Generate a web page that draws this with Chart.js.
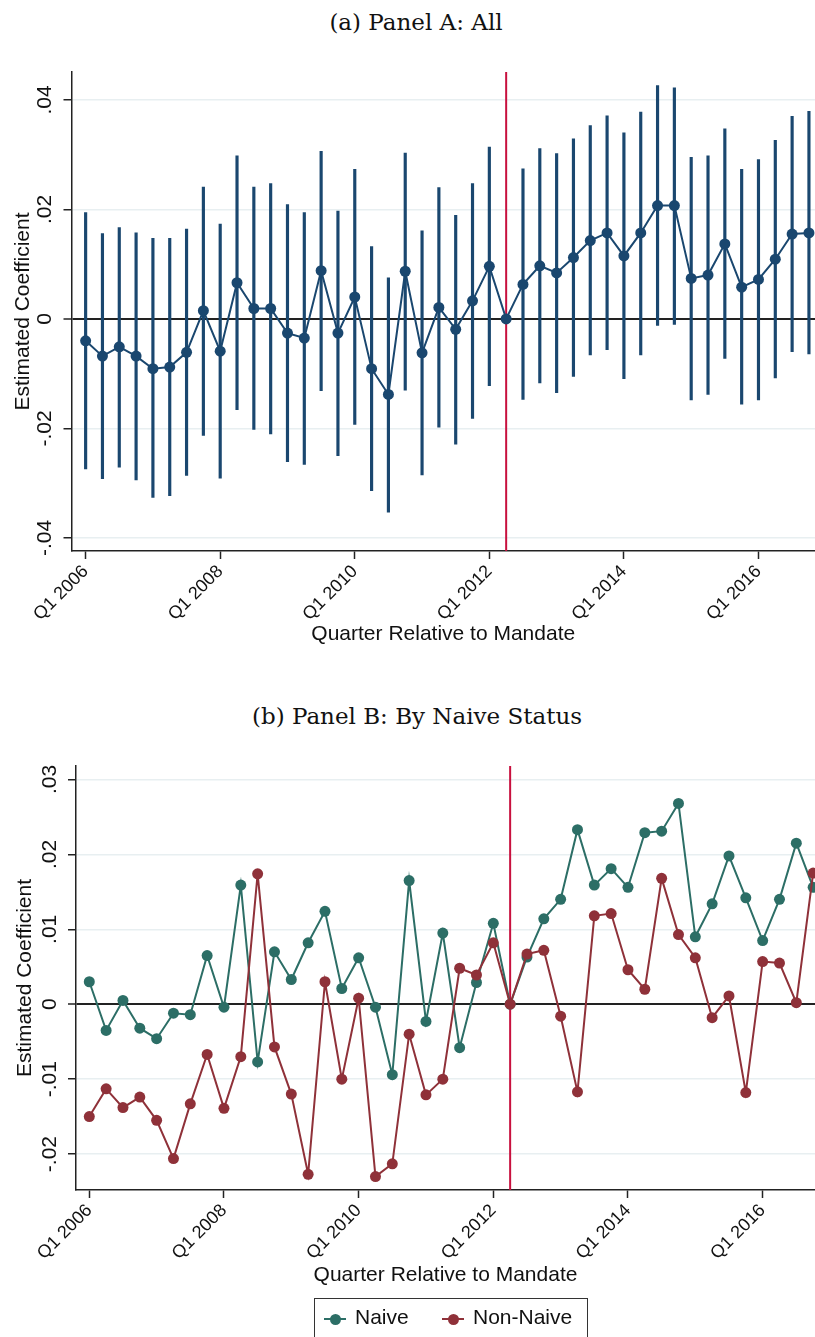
<!DOCTYPE html>
<html>
<head>
<meta charset="utf-8">
<script src="https://cdn.jsdelivr.net/npm/chart.js@4.4.0/dist/chart.umd.min.js"></script>
<style>
  body { margin: 0; background: #fff; width: 815px; height: 1337px; overflow: hidden; position: relative;
         font-family: "Liberation Sans", Arial, sans-serif; }
  .title { position: absolute; font-family: "DejaVu Serif", serif; font-size: 23px; color: #111;
           white-space: nowrap; transform: translateX(-50%); }
  .box { position: absolute; left: 0; width: 815px; }
  #legend { position: absolute; left: 314px; top: 1298px; width: 272px; height: 60px; border: 1px solid #333; }
  #legend .ln { position: absolute; height: 2px; width: 22px; top: 19px; }
  #legend .dot { position: absolute; width: 11px; height: 11px; border-radius: 50%; top: 14.5px; }
  #legend .txt { position: absolute; top: 6px; font-size: 21px; color: #111; }
</style>
</head>
<body>
<div class="title" style="left:416px; top:9px;">(a) Panel A: All</div>
<div class="box" style="top:0; height:660px;"><canvas id="chartA"></canvas></div>
<div class="title" style="left:417px; top:703px;">(b) Panel B: By Naive Status</div>
<div class="box" style="top:680px; height:620px;"><canvas id="chartB"></canvas></div>
<div id="legend">
  <span class="ln" style="left:9px; background:#2c6e66;"></span>
  <span class="dot" style="left:14.5px; background:#2c6e66;"></span>
  <span class="txt" style="left:40px;">Naive</span>
  <span class="ln" style="left:127px; background:#8f3139;"></span>
  <span class="dot" style="left:132.5px; background:#8f3139;"></span>
  <span class="txt" style="left:158px;">Non-Naive</span>
</div>
<script>
"use strict";

// Quarters are numbered 0 (Q1 2006) .. 43 (Q4 2016); mandate quarter = 25 (Q2 2012)
const tickQuarters = [0, 8, 16, 24, 32, 40];
const tickLabels = ['Q1 2006', 'Q1 2008', 'Q1 2010', 'Q1 2012', 'Q1 2014', 'Q1 2016'];
const mandateQuarter = 25;

// Panel A: all
const estA = [-0.0040, -0.0068, -0.0051, -0.0068, -0.0091, -0.0088, -0.0061, 0.0015, -0.0059, 0.0066,
  0.0019, 0.0019, -0.0026, -0.0035, 0.0088, -0.0026, 0.0040, -0.0091, -0.0138, 0.0087,
  -0.0062, 0.0021, -0.0019, 0.0033, 0.0096, 0, 0.0063, 0.0097, 0.0084, 0.0112,
  0.0143, 0.0157, 0.0115, 0.0157, 0.0207, 0.0207, 0.0074, 0.0080, 0.0137, 0.0058,
  0.0072, 0.0109, 0.0155, 0.0157];
const ciHighA = [0.0194, 0.0156, 0.0167, 0.0157, 0.0147, 0.0147, 0.0164, 0.0241, 0.0173, 0.0298,
  0.0241, 0.0247, 0.0209, 0.0194, 0.0306, 0.0197, 0.0273, 0.0132, 0.0075, 0.0303,
  0.0161, 0.0240, 0.0189, 0.0247, 0.0314, null, 0.0274, 0.0311, 0.0302, 0.0329,
  0.0353, 0.0371, 0.0340, 0.0378, 0.0426, 0.0422, 0.0295, 0.0298, 0.0347, 0.0273,
  0.0291, 0.0326, 0.0370, 0.0379];
const ciLowA = [-0.0274, -0.0292, -0.0271, -0.0294, -0.0326, -0.0323, -0.0286, -0.0213, -0.0291, -0.0166,
  -0.0202, -0.0210, -0.0261, -0.0266, -0.0131, -0.0250, -0.0193, -0.0314, -0.0353, -0.0130,
  -0.0285, -0.0198, -0.0229, -0.0182, -0.0122, null, -0.0147, -0.0117, -0.0135, -0.0105,
  -0.0066, -0.0056, -0.0109, -0.0066, -0.0012, -0.0010, -0.0148, -0.0138, -0.0072, -0.0156,
  -0.0148, -0.0108, -0.0060, -0.0064];
const yTicksA = [-0.04, -0.02, 0, 0.02, 0.04];

// Panel B: by naive status
const naiveB = [0.0030, -0.0035, 0.0005, -0.0032, -0.0046, -0.0012, -0.0014, 0.0065, -0.0004, 0.0159,
  -0.0077, 0.0070, 0.0033, 0.0082, 0.0124, 0.0021, 0.0062, -0.0004, -0.0094, 0.0165,
  -0.0023, 0.0095, -0.0058, 0.0029, 0.0108, 0, 0.0063, 0.0114, 0.0140, 0.0233,
  0.0159, 0.0181, 0.0156, 0.0229, 0.0231, 0.0268, 0.0090, 0.0134, 0.0198, 0.0142,
  0.0085, 0.0140, 0.0215, 0.0156];
const nonNaiveB = [-0.0150, -0.0113, -0.0138, -0.0124, -0.0155, -0.0206, -0.0133, -0.0067, -0.0139, -0.0070,
  0.0174, -0.0057, -0.0120, -0.0227, 0.0030, -0.0100, 0.0008, -0.0230, -0.0213, -0.0040,
  -0.0121, -0.0100, 0.0048, 0.0039, 0.0082, 0, 0.0067, 0.0072, -0.0016, -0.0117,
  0.0118, 0.0121, 0.0046, 0.0020, 0.0168, 0.0093, 0.0062, -0.0018, 0.0011, -0.0118,
  0.0057, 0.0055, 0.0002, 0.0175];
const yTicksB = [-0.02, -0.01, 0, 0.01, 0.02, 0.03];

const NAVY = '#1a476f';
const GREEN = '#2c6e66';
const MAROON = '#8f3139';
const RED = '#c8103e';
const AXIS = '#222';
const GRID = '#e8eff1';

function fmtY(v) {
  if (Math.abs(v) < 1e-9) return '0';
  return (v < 0 ? '-' : '') + Math.abs(v).toFixed(2).replace(/^0/, '');
}

function buildScales(o) {
  return {
    x: {
      type: 'linear', min: o.xMin, max: o.xMax, offset: false,
      afterBuildTicks: s => { s.ticks = tickQuarters.map(v => ({ value: v })); },
      afterFit: s => { s.height = o.xHeight; s.paddingLeft = 0; s.paddingRight = 0; },
      ticks: {
        autoSkip: false, minRotation: 45, maxRotation: 45, padding: 2,
        color: '#111', font: { size: 18, family: 'Liberation Sans' },
        callback: v => tickLabels[tickQuarters.indexOf(v)]
      },
      grid: { offset: false, drawOnChartArea: false, tickLength: 8, tickColor: AXIS, tickWidth: 1.5 },
      border: { color: AXIS, width: 1.5 },
      title: {
        display: true, text: 'Quarter Relative to Mandate', color: '#111',
        font: { size: 21, family: 'Liberation Sans' }, padding: { top: 0, bottom: o.xTitlePad }
      }
    },
    y: {
      min: o.yMin, max: o.yMax,
      afterBuildTicks: s => { s.ticks = o.yTicks.map(v => ({ value: v })); },
      afterFit: s => { s.width = o.yWidth; },
      ticks: {
        minRotation: 90, maxRotation: 90, crossAlign: 'center', padding: 0,
        color: '#111', font: { size: 21, family: 'Liberation Sans' },
        callback: fmtY
      },
      grid: {
        color: c => (c.tick && Math.abs(c.tick.value) < 1e-9 ? AXIS : GRID),
        lineWidth: c => (c.tick && Math.abs(c.tick.value) < 1e-9 ? 2 : 1.5),
        tickLength: 8, tickColor: AXIS, tickWidth: 1.5
      },
      border: { color: AXIS, width: 1.5 },
      title: {
        display: true, text: 'Estimated Coefficient', color: '#111',
        font: { size: 21, family: 'Liberation Sans' }, padding: { top: o.yTitlePad, bottom: 0 }
      }
    }
  };
}

function mandateLine() {
  return {
    type: 'line', data: [{ x: mandateQuarter, y: -1 }, { x: mandateQuarter, y: 1 }],
    borderColor: RED, borderWidth: 2, pointRadius: 0, order: 5
  };
}

function seriesLine(values, color, order) {
  return {
    type: 'line', data: values.map((v, i) => ({ x: i, y: v })),
    borderColor: color, backgroundColor: color, borderWidth: 2,
    pointRadius: 5.5, pointBorderWidth: 0, tension: 0, order: order
  };
}

const baseOptions = {
  responsive: true, maintainAspectRatio: false, animation: false,
  plugins: { legend: { display: false }, tooltip: { enabled: false } }
};

// Panel A
const ciBars = [];
ciLowA.forEach((lo, i) => {
  if (lo !== null) ciBars.push({ x: i, y: [lo, ciHighA[i]] });
});

new Chart(document.getElementById('chartA'), {
  type: 'line',
  data: {
    datasets: [
      seriesLine(estA, NAVY, 1),
      { type: 'bar', data: ciBars, backgroundColor: NAVY, barThickness: 2.5, order: 2 },
      mandateLine()
    ]
  },
  options: Object.assign({}, baseOptions, {
    layout: { autoPadding: false, padding: { top: 72, right: 0, bottom: 0, left: 0 } },
    scales: buildScales({
      xMin: -0.84, xMax: 43.36, yMin: -0.0424, yMax: 0.0451, yTicks: yTicksA,
      xHeight: 109, yWidth: 71.5, xTitlePad: 13, yTitlePad: 11
    })
  })
});

// Panel B
new Chart(document.getElementById('chartB'), {
  type: 'line',
  data: {
    datasets: [
      seriesLine(nonNaiveB, MAROON, 1),
      seriesLine(naiveB, GREEN, 2),
      mandateLine()
    ]
  },
  options: Object.assign({}, baseOptions, {
    layout: { autoPadding: false, padding: { top: 86, right: 0, bottom: 0, left: 0 } },
    scales: buildScales({
      xMin: -0.79, xMax: 43.11, yMin: -0.0248, yMax: 0.0318, yTicks: yTicksB,
      xHeight: 110, yWidth: 76, xTitlePad: 12, yTitlePad: 13
    })
  })
});
</script>
</body>
</html>
